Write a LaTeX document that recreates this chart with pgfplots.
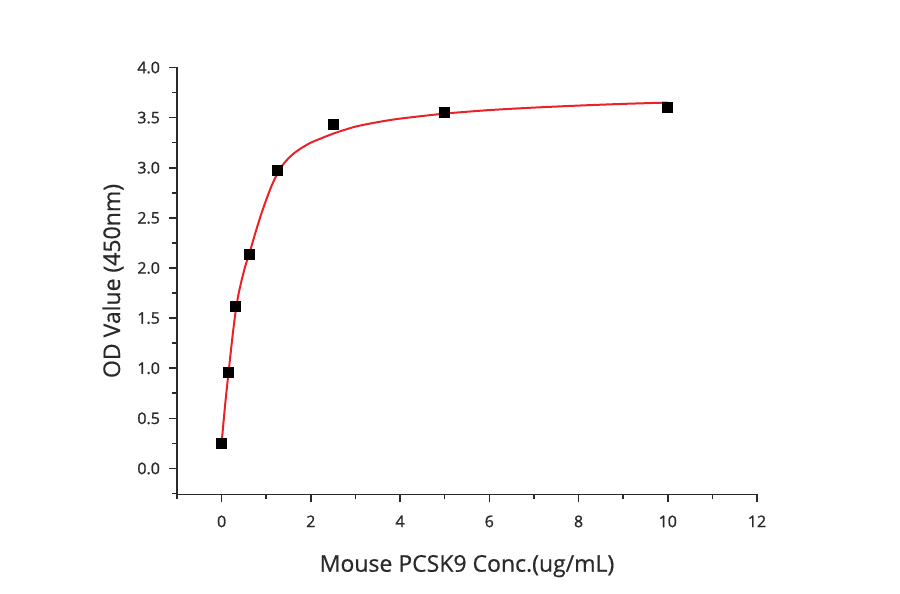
\documentclass[border=0pt]{standalone}
\usepackage{fontspec}
\setmainfont{Open Sans}
\newfontfamily\tickfont[FakeBold=1.2]{Open Sans}
\newfontfamily\labfont[FakeBold=0.6]{Open Sans}
\usepackage{pgfplots}
\pgfplotsset{compat=1.18}
\definecolor{txt}{HTML}{2A2A2A}
\definecolor{fitred}{HTML}{EA2228}
\begin{document}
\begin{tikzpicture}
\begin{axis}[
  name=ax,
  scale only axis,
  width=290pt, height=213.5pt,
  xmin=-1, xmax=12, ymin=-0.26, ymax=4.0,
  axis x line=bottom, axis y line=left,
  axis line style={-, line width=0.8pt, color=txt},
  tick align=outside,
  tick style={line width=0.8pt, color=txt},
  major tick length=4pt, minor tick length=2.5pt,
  xtick={0,2,4,6,8,10,12},
  minor xtick={-1,1,3,5,7,9,11},
  ytick={0,0.5,1,1.5,2,2.5,3,3.5,4},
  minor ytick={-0.25,0.25,0.75,1.25,1.75,2.25,2.75,3.25,3.75},
  yticklabel style={/pgf/number format/fixed, /pgf/number format/fixed zerofill, /pgf/number format/precision=1, xshift=-1pt},
  /pgf/number format/assume math mode=true,
  ticklabel style={font=\tickfont\fontsize{8}{9}\selectfont, color=txt},
  xticklabel style={yshift=-3pt},
  xlabel={Mouse PCSK9 Conc.(ug/mL)},
  ylabel={OD Value (450nm)},
  label style={font=\labfont\fontsize{11.5}{13}\selectfont, color=txt},
  xlabel style={yshift=-7pt},
  ylabel style={yshift=0pt},
  clip=false,
]
\addplot[fitred, line width=1pt, smooth, tension=0.4] coordinates {
(0,0.25) (0.04,0.45) (0.08,0.64) (0.12,0.81) (0.156,0.96) (0.2,1.14)
(0.25,1.34) (0.3125,1.56) (0.375,1.73) (0.45,1.88) (0.525,2.01)
(0.625,2.15) (0.75,2.34) (0.875,2.52) (1.0,2.68) (1.125,2.825)
(1.25,2.94) (1.375,3.03) (1.5,3.095) (1.625,3.145) (1.75,3.185)
(2.0,3.25) (2.5,3.34) (3.0,3.41) (3.5,3.455) (4.0,3.49) (5.0,3.54)
(6.0,3.575) (7.0,3.60) (8.0,3.62) (9.0,3.637) (10.0,3.65)
};
\addplot[only marks, mark=square*, mark size=2.5pt, mark options={fill=black, draw=black}] coordinates {
(0,0.25) (0.156,0.96) (0.3125,1.62) (0.625,2.14) (1.25,2.97)
(2.5,3.43) (5,3.55) (10,3.60)
};
\end{axis}
\pgfresetboundingbox
\path ([xshift=-88.5pt,yshift=-49.5pt]ax.south west) rectangle ([xshift=71.5pt,yshift=33.75pt]ax.north east);
\end{tikzpicture}
\end{document}
